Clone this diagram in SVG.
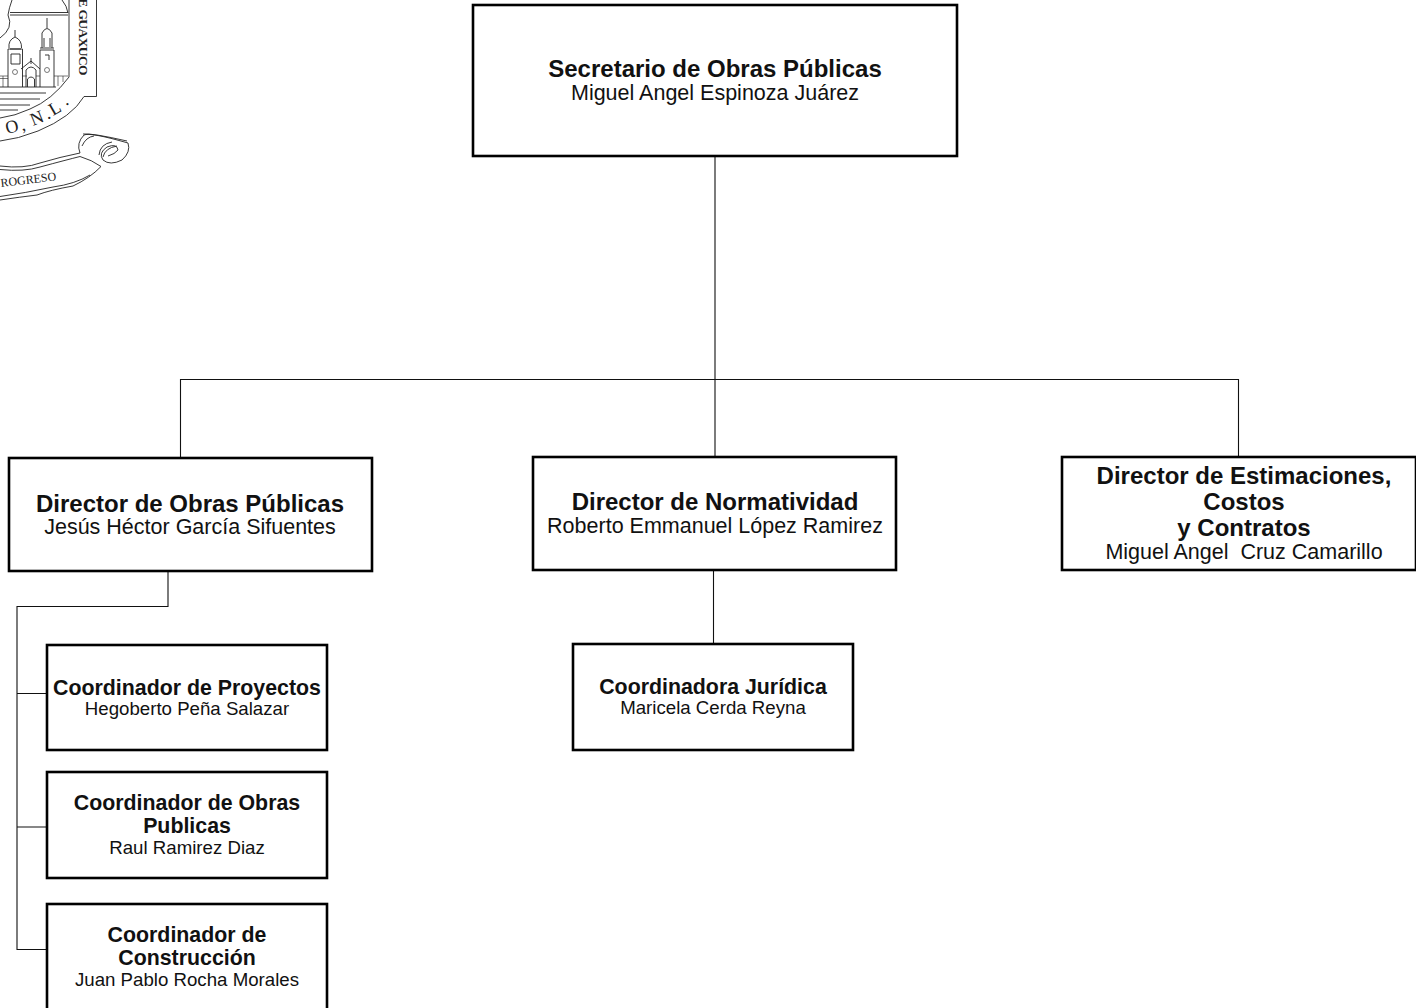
<svg xmlns="http://www.w3.org/2000/svg" width="1416" height="1008" viewBox="0 0 1416 1008">
<style>
.box{fill:#fff;stroke:#000;stroke-width:2.6}
.c{fill:none;stroke:#111;stroke-width:1.1}
.l{fill:none;stroke:#222;stroke-width:.9}
.l2{fill:none;stroke:#222;stroke-width:.6}
text{font-family:"Liberation Sans",Arial,sans-serif;fill:#111;text-anchor:middle}
.a{font-weight:bold;font-size:24px}
.b{font-size:21.500px}
.d{font-weight:bold;font-size:21.330px}
.e{font-size:18.670px}
.cr{font-family:"Liberation Serif",serif;fill:#222}
</style>
<g id="escudo">
<path class="l" d="M96.500 0V96.500H84Q72 117 38 131Q18 139 0 141"/>
<path class="l" d="M69 0V77Q52 100 30 109Q15 116 0 118"/>
<path class="l" d="M62 0Q67 6 68 13M10 12.500H68M10 15H68"/>
<path class="l" d="M12 0Q9 8 8 15Q14 28 0 38"/>
<path class="l" d="M0 87H56M0 93H46M0 99H40M0 105H30M0 110H18"/>
<path class="l" d="M8 87V49H22.500V87M10 49H21M9 48Q8 40 15 37Q22 40 21.500 48M15 37V30M11 54H20V64H11ZM40 87V50H54V87M40 48H54M42 48V33Q47 24 52 33V48M47 28V18M44 38V47M50 38V47M45 55H49V60M21 69L31 61L40 69M26 87V70Q31 64 36 70V87M27.500 87V79Q31 75 34.500 79V87M31 64V58"/>
<circle class="l2" cx="15" cy="72" r="2.500"/><circle class="l2" cx="47" cy="70" r="2.500"/>
<path class="l2" d="M0 76H8M0 78.500H8M22 76H27M36 76H40M54 76H68M3 76V87M58 76V86M63 76V82"/>
<text class="cr" font-size="13.500" font-weight="bold" transform="translate(78.500 75) rotate(90)" x="0" y="0" style="text-anchor:end" letter-spacing="-.6">E GUAXUCO</text>
<text class="cr" font-size="18" style="text-anchor:start" x="7 22 26 33 47 53 66" y="134 131 129 126 119 116 106" rotate="-14 -16 0 -22 0 -30 -34">O, N.L.</text>
<path class="l" d="M0 166Q24 169 40 163Q60 157 80 153"/>
<path class="l" d="M0 169.500Q24 172 40 167Q66 160 80 156.500Q92 160 101 166.500"/>
<path class="l" d="M0 200Q20 197 37 195Q50 190 73 186Q90 178 101 166.500"/>
<path class="l" d="M0 196.500Q25 193 53 187Q75 184 90 175"/>
<path class="l" d="M80 153Q76 143 84 135Q90 132 128 143Q131 152 122 160Q110 166 103 160Q98 153 107 147Q117 143 118 150Q115 154 108 156"/>
<path class="l" d="M83 134Q92 133 127 141M82 146Q86 137 94 136M112 142Q100 144 99 155M117 146Q105 148 103 157"/>
<text class="cr" font-size="12" transform="translate(1 187) rotate(-7)" x="0" y="0" style="text-anchor:start">ROGRESO</text>
</g>
<g id="connectors" class="c">
<path class="c" d="M715 156V457M180.500 457V379.500H1238.500V457"/>
<path class="c" d="M713.500 570V644"/>
<path class="c" d="M168 571V606.500H17V949.500H47M17 693.500H47M17 827H47"/>
</g>
<g id="secretario"><rect class="box" x="473" y="5" width="484" height="151"/>
<text class="a" x="715" y="77">Secretario de Obras Públicas</text><text class="b" x="715" y="100">Miguel Angel Espinoza Juárez</text></g>
<g id="dir-obras"><rect class="box" x="9" y="458" width="363" height="113"/>
<text class="a" x="190" y="511.500">Director de Obras Públicas</text><text class="b" x="190" y="534">Jesús Héctor García Sifuentes</text></g>
<g id="dir-norm"><rect class="box" x="533" y="457" width="363" height="113"/>
<text class="a" x="715" y="509.500">Director de Normatividad</text><text class="b" x="715" y="533">Roberto Emmanuel López Ramirez</text></g>
<g id="dir-est"><rect class="box" x="1062" y="457" width="354" height="113"/>
<text class="a" x="1244" y="483.500">Director de Estimaciones,</text><text class="a" x="1244" y="509.500">Costos</text><text class="a" x="1244" y="535.500">y Contratos</text><text class="b" x="1244" y="559" xml:space="preserve">Miguel Angel  Cruz Camarillo</text></g>
<g id="coord-juridica"><rect class="box" x="573" y="644" width="280" height="106"/>
<text class="d" x="713" y="694">Coordinadora Jurídica</text><text class="e" x="713" y="714">Maricela Cerda Reyna</text></g>
<g id="coord-proyectos"><rect class="box" x="47" y="645" width="280" height="105"/>
<text class="d" x="187" y="695">Coordinador de Proyectos</text><text class="e" x="187" y="715">Hegoberto Peña Salazar</text></g>
<g id="coord-obras"><rect class="box" x="47" y="772" width="280" height="106"/>
<text class="d" x="187" y="810">Coordinador de Obras</text><text class="d" x="187" y="833">Publicas</text><text class="e" x="187" y="854">Raul Ramirez Diaz</text></g>
<g id="coord-construccion"><rect class="box" x="47" y="904" width="280" height="110"/>
<text class="d" x="187" y="942">Coordinador de</text><text class="d" x="187" y="965">Construcción</text><text class="e" x="187" y="986">Juan Pablo Rocha Morales</text></g>
</svg>
